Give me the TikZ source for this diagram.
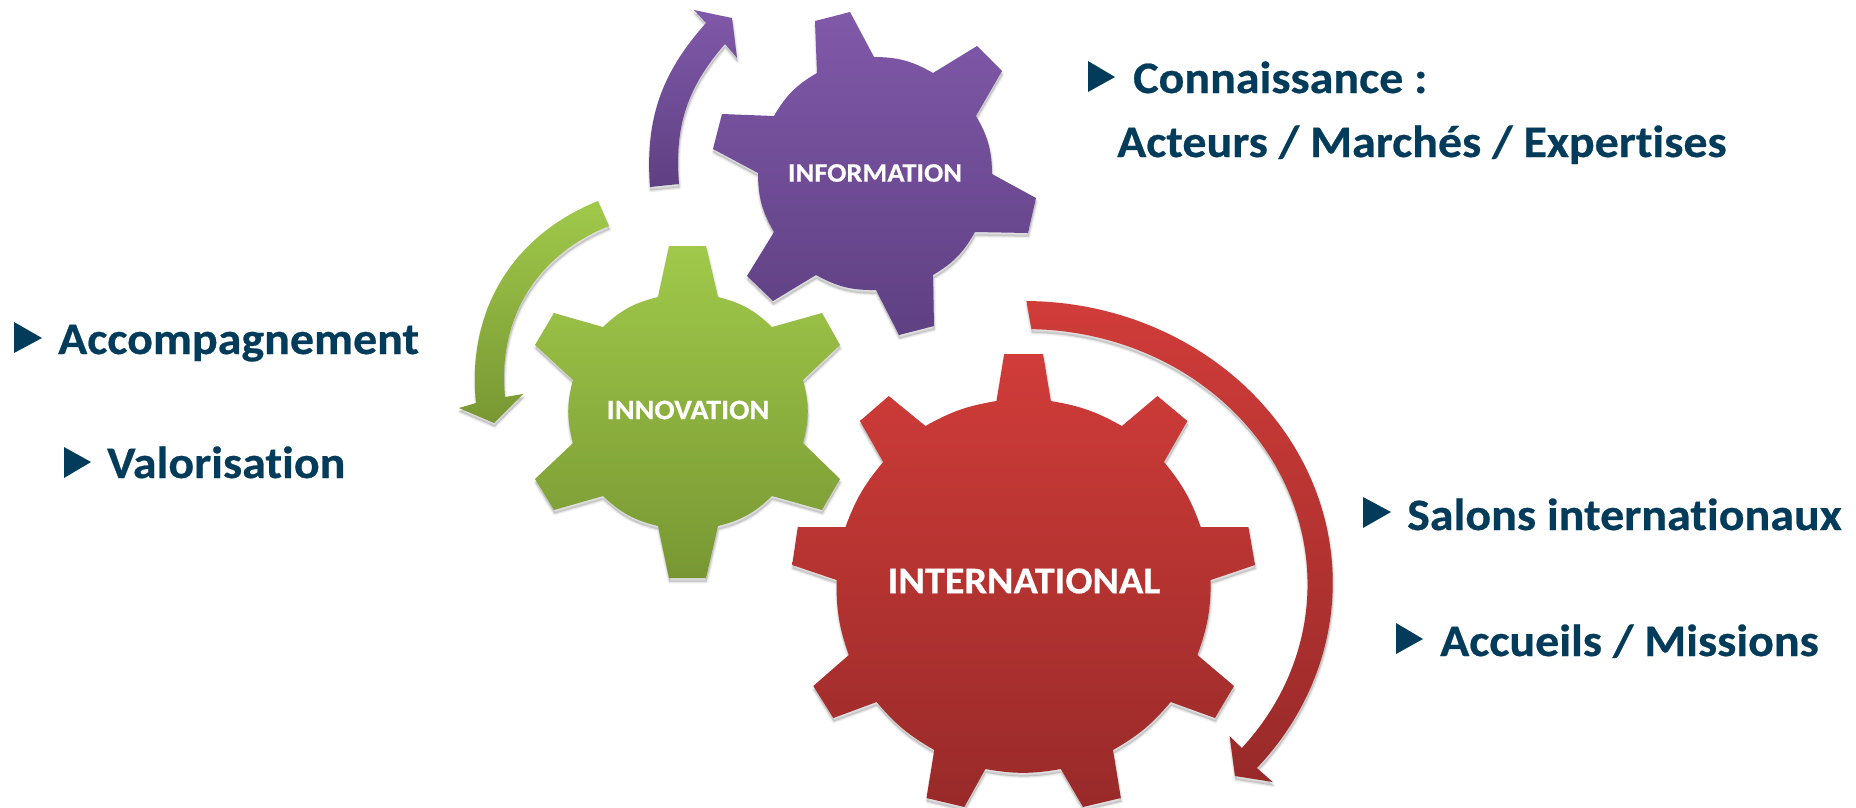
\documentclass[tikz,border=0pt]{standalone}
\usepackage{fontspec}
\setmainfont{Carlito}[Ligatures=NoCommon,FakeStretch=1.066,BoldFeatures={FakeBold=0.5}]
\definecolor{navy}{HTML}{033B5A}
\definecolor{purpleTop}{HTML}{8059A9}
\definecolor{purpleBot}{HTML}{5F4083}
\definecolor{greenTop}{HTML}{A0C94A}
\definecolor{greenBot}{HTML}{789733}
\definecolor{redTop}{HTML}{D03C39}
\definecolor{redBot}{HTML}{982A29}
\def\purplegear{(815,-21) -- (850,-12) -- (874,-57) to[bend left=15] (933,-73) -- (977,-46) -- (1002,-71) -- (976,-116) to[bend left=15] (992,-174) -- (1036,-198) -- (1028,-233) -- (975,-232) to[bend left=15] (933,-275) -- (934,-326) -- (899,-335) -- (876,-290) to[bend left=15] (816,-275) -- (773,-301) -- (747,-276) -- (774,-232) to[bend left=15] (758,-173) -- (713,-149) -- (722,-114) -- (774,-116) to[bend left=15] (817,-73) -- cycle}
\def\greengear{(669,-246) -- (706,-246) -- (718,-297) to[bend left=15] (772,-327) -- (822,-313) -- (840,-345) -- (803,-380) to[bend left=15] (803,-443) -- (840,-479) -- (822,-510) -- (772,-496) to[bend left=15] (718,-526) -- (706,-578) -- (669,-578) -- (658,-526) to[bend left=15] (603,-496) -- (554,-510) -- (535,-479) -- (573,-443) to[bend left=15] (573,-380) -- (535,-345) -- (554,-313) -- (603,-327) to[bend left=15] (658,-297) -- cycle}
\def\redgear{(1004.2,-354) -- (1043,-354) -- (1050.8,-401) to[bend left=10] (1121.9,-426) -- (1157.4,-396) -- (1187.4,-421) -- (1164,-462) to[bend left=10] (1200.7,-527) -- (1248.4,-527) -- (1255,-565) -- (1210.7,-580) to[bend left=10] (1197.4,-655) -- (1234,-686) -- (1215,-718) -- (1170.7,-702) to[bend left=10] (1113,-750) -- (1120.8,-798) -- (1083,-807) -- (1060.8,-769) to[bend left=10] (985.4,-769) -- (964.3,-807) -- (926.5,-798) -- (934.3,-750) to[bend left=10] (876.6,-702) -- (833.3,-718) -- (813.3,-686) -- (848.8,-655) to[bend left=10] (836.6,-580) -- (792.2,-565) -- (797.8,-527) -- (845.5,-527) to[bend left=10] (883.2,-462) -- (859.9,-421) -- (888.8,-396) -- (925.4,-426) to[bend left=10] (996.5,-401) -- cycle}
\def\purplearrow{(650,-187) to[bend left=23] (706,-23) -- (694,-10) -- (732,-18) -- (737,-58) -- (725,-44) to[bend right=23] (679,-184) -- cycle}
\def\greenarrow{(598,-201) to[bend right=37] (476,-403) -- (459,-408) -- (494,-423) -- (523,-394) -- (505,-397) to[bend left=37] (609,-226) -- cycle}
\def\redarrow{(1026.4,-301) arc[start angle=89.5,end angle=-41,x radius=309,y radius=282] -- (1272.8,-782) -- (1235,-776) -- (1229.6,-736) -- (1241.8,-748) arc[start angle=-40,end angle=89,x radius=281,y radius=255] -- cycle}
\newcommand{\softshadow}[1]{%
  \foreach \w in {4,2.5,1}{\path[fill=black,draw=black,line width=\w pt,line join=round,opacity=.045,shift={(.5,-3.5)}] #1;}}
\tikzset{
  gearlabel/.style={text=white,font=\bfseries\fontsize{#1}{#1}\selectfont,inner sep=0pt},
  item/.style={text=navy,font=\bfseries\fontsize{45}{45}\selectfont,inner sep=0pt,anchor=base west},
  bullet/.style={fill=navy}
}
\begin{document}
\begin{tikzpicture}[x=1pt,y=1pt]
\useasboundingbox (0,-807) rectangle (1856,0);
\fill[white] (0,-807) rectangle (1856,0);
\softshadow{\purplegear}\softshadow{\greengear}\softshadow{\redgear}
\softshadow{\purplearrow}\softshadow{\greenarrow}\softshadow{\redarrow}
\shade[top color=purpleTop,bottom color=purpleBot] \purplegear;
\shade[top color=greenTop,bottom color=greenBot] \greengear;
\shade[top color=redTop,bottom color=redBot] \redgear;
\shade[top color=purpleTop,bottom color=purpleBot] \purplearrow;
\shade[top color=greenTop,bottom color=greenBot] \greenarrow;
\shade[top color=redTop,bottom color=redBot] \redarrow;
\node[gearlabel=26.7] (information) at (875,-173) {INFORMATION};
\node[gearlabel=28.2] (innovation) at (688,-410) {INNOVATION};
\node[gearlabel=37.7] (international) at (1024,-581) {INTERNATIONAL};
\fill[bullet] (14,-322) -- (14,-353) -- (42,-338) -- cycle;
\fill[bullet] (64,-447) -- (64,-478) -- (91,-462) -- cycle;
\fill[bullet] (1088,-61) -- (1088,-92) -- (1115,-77) -- cycle;
\fill[bullet] (1363,-497) -- (1363,-528) -- (1391,-512) -- cycle;
\fill[bullet] (1396,-623) -- (1396,-654) -- (1423,-639) -- cycle;
\node[item] (accompagnement) at (58,-354) {Accompagnement};
\node[item] (valorisation) at (107,-478) {Valorisation};
\node[item] (connaissance) at (1133,-93) {Connaissance :};
\node[item] (acteurs) at (1117,-157) {Acteurs / Marchés / Expertises};
\node[item] (salons) at (1407,-530) {Salons internationaux};
\node[item] (accueils) at (1440,-656) {Accueils / Missions};
\end{tikzpicture}
\end{document}
